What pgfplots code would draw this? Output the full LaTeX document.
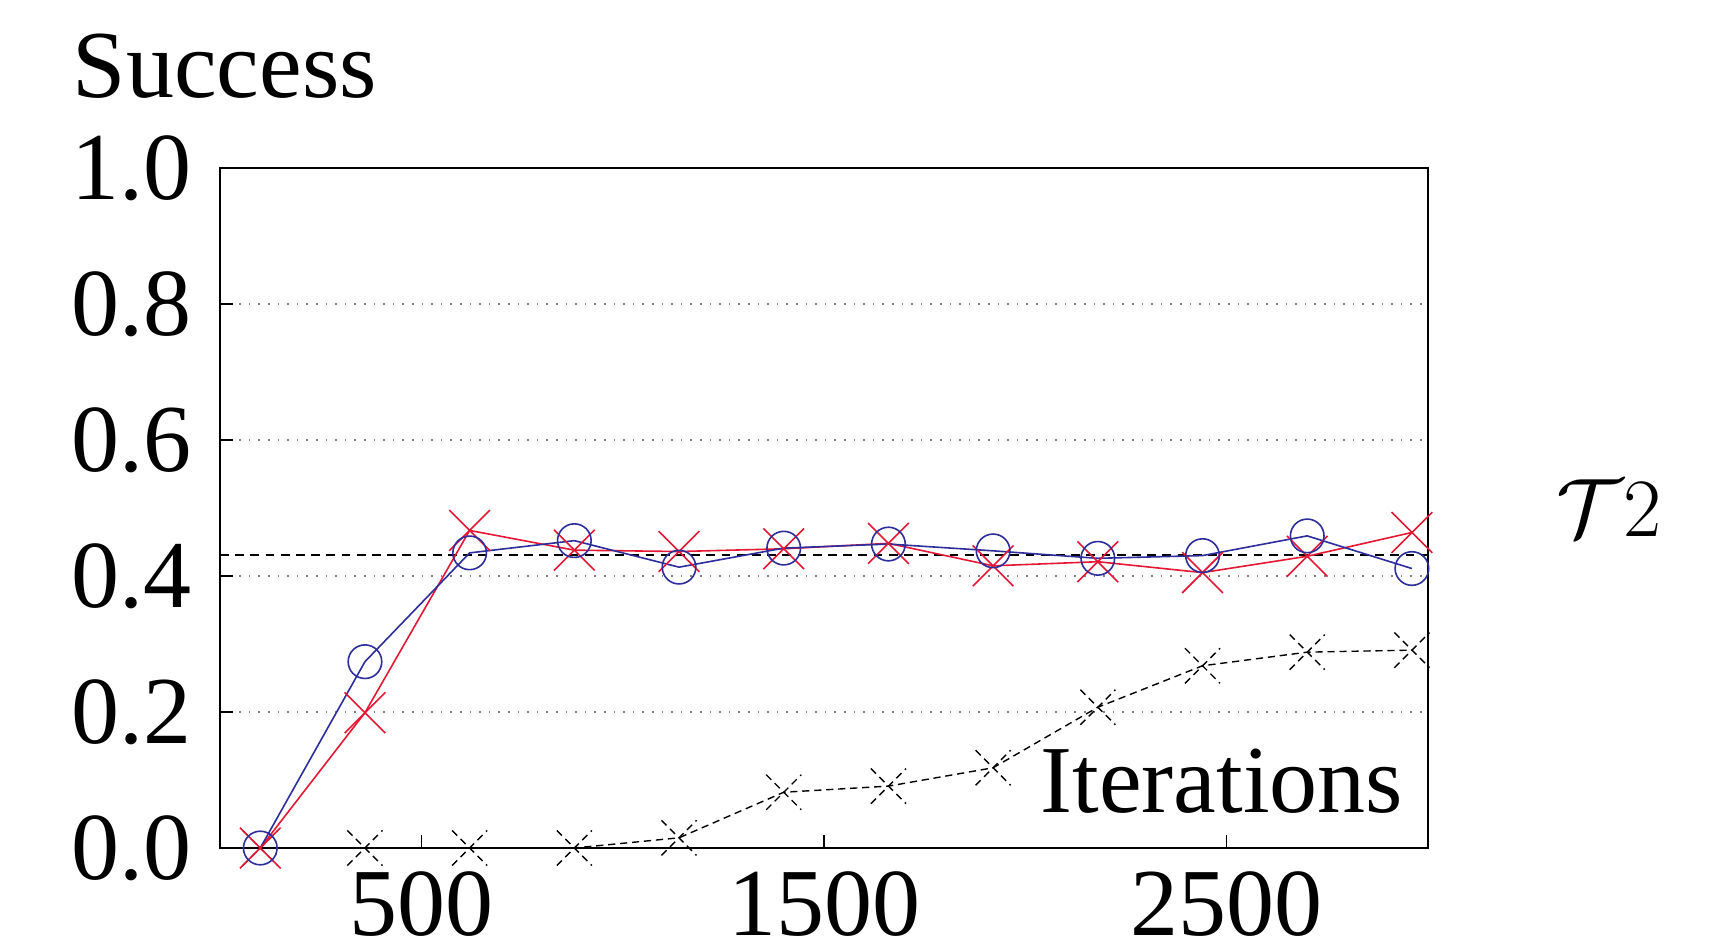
\documentclass[border=0pt]{standalone}
\usepackage{fontspec}
\setmainfont{Liberation Serif}
\usepackage{pgfplots}
\pgfplotsset{compat=1.18}
\usetikzlibrary{calc}
\definecolor{gblue}{RGB}{45,45,155}
\definecolor{gred}{RGB}{228,24,52}

\begin{document}
\begin{tikzpicture}
\begin{axis}[name=ax, scale only axis, width=302pt, height=170pt,
  xmin=0, xmax=3000, ymin=0, ymax=1,
  xtick={500,1500,2500}, xticklabels={500,1500,2500},
  ytick={0,0.2,0.4,0.6,0.8,1.0}, yticklabels={0.0,0.2,0.4,0.6,0.8,1.0},
  tick label style={font=\fontsize{24}{26}\selectfont},
  xticklabel style={yshift=-2.5pt},
  yticklabel style={xshift=-3.5pt},
  tick align=inside, xtick pos=bottom, ytick pos=left,
  major tick length=3.2pt, tick style={black, line width=0.4pt},
  axis line style={line width=0.4pt},
  ymajorgrids, grid style={dotted, gray, line width=0.5pt},
  clip=false]
  % reference level
  \addplot[black, line width=0.4pt, dash pattern=on 2.2pt off 1.6pt, no marks]
    coordinates {(0,0.431) (3000,0.431)};
  % black, dashed
  \addplot[black, line width=0.35pt, dash pattern=on 1.8pt off 1.2pt,
    mark=x, mark size=6.2pt]
    coordinates {(100,0) (360,0) (620,0) (880,0) (1140,0.015) (1400,0.082)
      (1660,0.091) (1920,0.118) (2180,0.207) (2440,0.268) (2700,0.288) (2960,0.291)};
  % red
  \addplot[gred, line width=0.4pt, mark=x, mark size=7.2pt]
    coordinates {(100,0) (360,0.199) (620,0.467) (880,0.438) (1140,0.436) (1400,0.440)
      (1660,0.448) (1920,0.415) (2180,0.421) (2440,0.405) (2700,0.429) (2960,0.464)};
  % blue
  \addplot[gblue, line width=0.4pt, mark=o, mark size=4.2pt]
    coordinates {(100,0) (360,0.274) (620,0.434) (880,0.452) (1140,0.413) (1400,0.441)
      (1660,0.447) (1920,0.437) (2180,0.426) (2440,0.430) (2700,0.459) (2960,0.411)};
\end{axis}
\node[anchor=base west, inner sep=0, font=\fontsize{24}{26}\selectfont]
  at ($(ax.north west)+(-37pt,17.5pt)$) {Success};
\node[anchor=base east, inner sep=0, font=\fontsize{24}{26}\selectfont]
  at ($(ax.south east)+(-6pt,9pt)$) {Iterations};
\node[inner sep=0, font=\fontsize{22}{24}\selectfont]
  at ($(ax.south east)+(45.25pt,85pt)$) {$\mathcal{T}2$};
\pgfresetboundingbox
\path[use as bounding box] ($(ax.south west)+(-55pt,-25.75pt)$)
  rectangle ($(ax.north east)+(74.75pt,42pt)$);
\end{tikzpicture}
\end{document}
